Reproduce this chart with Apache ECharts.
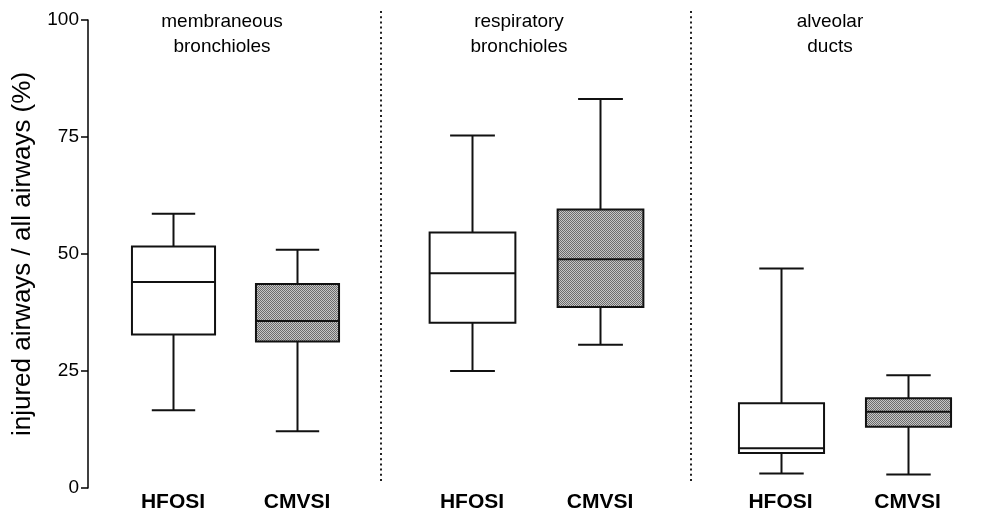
<!DOCTYPE html>
<html>
<head>
<meta charset="utf-8">
<script src="https://cdn.jsdelivr.net/npm/echarts@6/dist/echarts.min.js"></script>
<style>
  html, body { margin: 0; padding: 0; background: #fff; }
  #chart { width: 992px; height: 513px; }
</style>
</head>
<body>
<div id="chart"></div>
<script>
// Airway regions and ventilation groups
const regions = ['membraneous\nbronchioles', 'respiratory\nbronchioles', 'alveolar\nducts'];
const groups = ['HFOSI', 'CMVSI'];
const yTicks = [0, 25, 50, 75, 100];

// Five-number summaries per region: [min, Q1, median, Q3, max]
const hfosi = [
  [16.6, 32.8, 44.0, 51.6, 58.6],
  [25.0, 35.3, 45.9, 54.6, 75.3],
  [3.1, 7.5, 8.5, 18.1, 46.9]
];
const cmvsi = [
  [12.1, 31.3, 35.7, 43.6, 50.9],
  [30.6, 38.7, 48.9, 59.5, 83.1],
  [2.9, 13.1, 16.3, 19.2, 24.1]
];

const FONT = '"Liberation Sans", Arial, Helvetica, sans-serif';

// Dithered grey fill for the shaded boxes
function makeStipple() {
  const c = document.createElement('canvas');
  c.width = 4; c.height = 4;
  const ctx = c.getContext('2d');
  for (let y = 0; y < 4; y++) {
    for (let x = 0; x < 4; x++) {
      ctx.fillStyle = ((x + y) % 2 === 0) ? '#6c6c6c' : '#c6c6c6';
      ctx.fillRect(x, y, 1, 1);
    }
  }
  return { image: c, repeat: 'repeat' };
}
const stipple = makeStipple();

const gridRects = [
  { left: 111, width: 248 },
  { left: 408, width: 256 },
  { left: 717, width: 254 }
];

function renderBox(params, api) {
  const idx = api.value(0);
  const v = [1, 2, 3, 4, 5].map(d => api.value(d));
  const band = api.size([1, 0])[0];
  const halfBox = band * 0.335;
  const halfCap = band * 0.175;
  const p = v.map(val => api.coord([idx, val]));
  const cx = Math.round(p[0][0]) + 0.5;
  const lw = 2;
  const stroke = '#111';
  const fill = idx === 1 ? stipple : '#fff';
  return {
    type: 'group',
    children: [
      { type: 'line', shape: { x1: cx, y1: p[0][1], x2: cx, y2: p[1][1] }, style: { stroke, lineWidth: lw } },
      { type: 'line', shape: { x1: cx, y1: p[3][1], x2: cx, y2: p[4][1] }, style: { stroke, lineWidth: lw } },
      { type: 'line', shape: { x1: cx - halfCap, y1: p[0][1], x2: cx + halfCap, y2: p[0][1] }, style: { stroke, lineWidth: lw } },
      { type: 'line', shape: { x1: cx - halfCap, y1: p[4][1], x2: cx + halfCap, y2: p[4][1] }, style: { stroke, lineWidth: lw } },
      { type: 'rect', shape: { x: cx - halfBox, y: p[3][1], width: halfBox * 2, height: p[1][1] - p[3][1] }, style: { fill, stroke, lineWidth: lw } },
      { type: 'line', shape: { x1: cx - halfBox, y1: p[2][1], x2: cx + halfBox, y2: p[2][1] }, style: { stroke, lineWidth: lw } }
    ]
  };
}

const grids = gridRects.map(r => ({ left: r.left, width: r.width, top: 20, bottom: 24, containLabel: false }));

const xAxes = gridRects.map((r, i) => ({
  type: 'category',
  gridIndex: i,
  data: groups,
  boundaryGap: true,
  axisLine: { show: false },
  axisTick: { show: false },
  axisLabel: { color: '#000', fontFamily: FONT, fontWeight: 'bold', fontSize: 21, margin: 4 }
}));

const yAxes = gridRects.map((r, i) => ({
  type: 'value',
  gridIndex: i,
  min: 0,
  max: 100,
  interval: 25,
  show: i === 0,
  offset: i === 0 ? 23 : 0,
  splitLine: { show: false },
  axisLine: { show: true, lineStyle: { color: '#000', width: 1.5 } },
  axisTick: { show: true, length: 7, lineStyle: { color: '#000', width: 1.5 } },
  axisLabel: {
    color: '#000', fontFamily: FONT, fontSize: 19, margin: 9,
    formatter: val => (yTicks.indexOf(val) >= 0 ? String(val) : '')
  },
  name: i === 0 ? 'injured airways / all airways (%)' : '',
  nameLocation: 'middle',
  nameGap: 52,
  nameTextStyle: { color: '#000', fontFamily: FONT, fontSize: 26 }
}));

const series = regions.map((name, i) => ({
  type: 'custom',
  name: name,
  xAxisIndex: i,
  yAxisIndex: i,
  renderItem: renderBox,
  encode: { x: 0, y: [1, 2, 3, 4, 5] },
  data: [[0].concat(hfosi[i]), [1].concat(cmvsi[i])],
  silent: true
}));

// Region headings and dotted separators
const titleX = [222, 519, 830];
const graphics = [];
regions.forEach((t, i) => {
  graphics.push({
    type: 'text',
    x: titleX[i],
    y: 9,
    style: { text: t, font: '19px ' + FONT, fill: '#000', textAlign: 'center', lineHeight: 25 }
  });
});
[381, 691].forEach(x => {
  graphics.push({
    type: 'line',
    shape: { x1: x, y1: 11, x2: x, y2: 483 },
    style: { stroke: '#222', lineWidth: 2, lineDash: [2, 3.2] }
  });
});

const chart = echarts.init(document.getElementById('chart'), null, { renderer: 'canvas' });
chart.setOption({
  animation: false,
  backgroundColor: '#fff',
  grid: grids,
  xAxis: xAxes,
  yAxis: yAxes,
  series: series,
  graphic: graphics
});
</script>
</body>
</html>
